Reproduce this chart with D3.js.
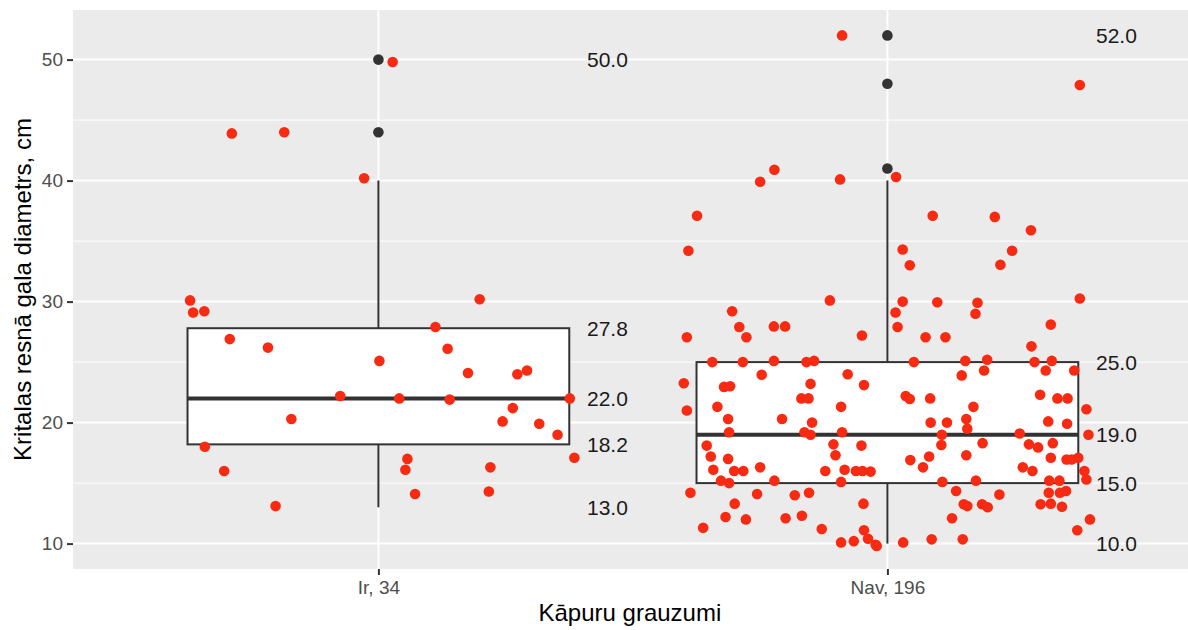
<!DOCTYPE html>
<html>
<head>
<meta charset="utf-8">
<script src="https://cdn.jsdelivr.net/npm/d3@7"></script>
<style>
  html, body { margin: 0; padding: 0; background: #ffffff; }
  svg { display: block; font-family: "Liberation Sans", Arial, Helvetica, sans-serif; }
</style>
</head>
<body>
<svg id="chart" width="1188" height="630"></svg>
<script>
// ---------- data ----------
const categories = ["Ir", "Nav"];
const tickLabels = ["Ir, 34", "Nav, 196"];
const yTicks = [10, 20, 30, 40, 50];
const yMinorTicks = [15, 25, 35, 45];

const boxQ1 = [18.2, 15.0];
const boxMedian = [22.0, 19.0];
const boxQ3 = [27.8, 25.0];
const whiskerLow = [13.0, 10.0];
const whiskerHigh = [40.0, 40.0];
const outliersIr = [44, 50];
const outliersNav = [41, 48, 52];

const labelValuesIr = [50.0, 27.8, 22.0, 18.2, 13.0];
const labelValuesNav = [52.0, 25.0, 19.0, 15.0, 10.0];

// jittered observations: value (cm) and horizontal jitter (category units)
const irValues = [49.8, 43.9, 44.0, 40.2, 30.1, 29.1, 29.2, 30.2, 26.9, 26.2, 27.9, 26.1, 25.1, 24.1, 24.0, 24.3,
  22.2, 22.0, 21.9, 22.0, 21.2, 20.3, 20.1, 19.9, 19.0, 18.0, 17.0, 17.1, 16.1, 16.3, 16.0, 14.1, 14.3, 13.1];
const irJitter = [0.028, -0.288, -0.185, -0.028, -0.370, -0.364, -0.342, 0.199, -0.292, -0.217, 0.112, 0.136, 0.002, 0.176, 0.273, 0.292,
  -0.075, 0.041, 0.140, 0.376, 0.264, -0.171, 0.244, 0.316, 0.352, -0.341, 0.057, 0.385, 0.053, 0.220, -0.303, 0.072, 0.217, -0.202];

const navValues = [
  52.0, 40.9, 39.9, 40.1, 37.1, 34.2,
  47.9, 40.3, 37.1, 37.0, 35.9, 34.3, 33.0, 34.2, 33.05,
  30.1, 29.2, 27.9, 27.95, 27.95, 27.05, 27.05, 27.2, 25.0, 25.0, 25.1, 25.0, 25.1, 23.25, 23.95, 24.0, 22.95, 23.0, 23.2, 23.1, 22.0, 22.0, 21.0, 21.3, 21.3,
  20.3, 20.3, 20.0, 19.2, 19.2, 19.0, 19.2, 18.1, 17.2, 17.0, 18.2, 17.3, 18.1, 16.1, 16.0, 16.0, 16.3, 16.0, 16.1, 16.0, 16.0, 15.95,
  15.2, 15.0, 15.2, 15.1, 14.2, 13.3, 14.1, 14.0, 14.2, 13.3, 12.2, 12.0, 12.1, 12.3, 11.3, 11.2, 11.1, 10.1, 10.2, 10.4, 9.9,
  30.0, 29.95, 29.9, 30.25, 29.1, 29.0, 27.9, 28.1, 27.05, 27.05, 26.3, 25.0, 25.1, 25.2, 25.0, 25.1, 23.9, 24.3, 24.3, 24.3,
  22.2, 21.95, 22.0, 22.3, 22.0, 22.0, 21.3, 21.1,
  20.0, 20.0, 20.3, 19.5, 20.1, 19.9, 19.0, 19.1, 19.0, 18.15, 18.3, 18.2, 17.95, 18.3,
  16.9, 17.2, 17.3, 17.1, 16.95, 16.95, 17.1, 16.3, 16.3, 16.0, 16.0,
  15.1, 15.2, 15.2, 15.2, 15.3, 14.35, 14.2, 14.2, 14.35, 14.05,
  13.25, 13.1, 13.25, 13.0, 13.25, 13.3, 13.05, 12.1, 12.0, 11.1, 10.1, 10.35, 10.35, 9.8
];
const navJitter = [
  -0.089, -0.222, -0.250, -0.093, -0.374, -0.391,
  0.378, 0.017, 0.089, 0.211, 0.282, 0.030, 0.044, 0.245, 0.222,
  -0.113, -0.305, -0.291, -0.223, -0.201, -0.394, -0.277, -0.050, -0.344, -0.284, -0.223, -0.159, -0.144, -0.400, -0.247, -0.078, -0.321, -0.309, -0.151, -0.046, -0.169, -0.155, -0.394, -0.334, -0.091,
  -0.313, -0.207, -0.148, -0.311, -0.163, -0.151, -0.089, -0.355, -0.347, -0.313, -0.106, -0.102, -0.051, -0.342, -0.301, -0.283, -0.250, -0.122, -0.084, -0.062, -0.049, -0.033,
  -0.327, -0.311, -0.222, -0.091, -0.387, -0.300, -0.256, -0.182, -0.154, -0.047, -0.318, -0.278, -0.200, -0.168, -0.362, -0.129, -0.046, -0.091, -0.066, -0.038, -0.023,
  0.030, 0.098, 0.177, 0.378, 0.016, 0.173, 0.020, 0.321, 0.075, 0.114, 0.283, 0.052, 0.153, 0.196, 0.289, 0.323, 0.146, 0.190, 0.311, 0.367,
  0.036, 0.044, 0.084, 0.300, 0.334, 0.354, 0.169, 0.391,
  0.085, 0.117, 0.155, 0.157, 0.316, 0.353, 0.107, 0.260, 0.395, 0.106, 0.187, 0.278, 0.296, 0.325,
  0.045, 0.082, 0.155, 0.321, 0.352, 0.362, 0.375, 0.070, 0.266, 0.285, 0.387,
  0.108, 0.174, 0.318, 0.338, 0.391, 0.135, 0.317, 0.339, 0.351, 0.220,
  0.150, 0.157, 0.186, 0.197, 0.301, 0.321, 0.343, 0.127, 0.398, 0.373, 0.031, 0.087, 0.148, -0.021
];

// ---------- layout ----------
const svg = d3.select("#chart");
const panel = { left: 73, top: 10, right: 1192.8, bottom: 569 };

const x = d3.scalePoint().domain(categories).range([panel.left, panel.right]).padding(0.6);
const step = x.step();
const y = d3.scaleLinear().domain([7.9, 54.1]).range([panel.bottom, panel.top]);

const textDark = "#1a1a1a";
const tickGrey = "#4d4d4d";
const lineDark = "#333333";
const red = "#f92a12";

svg.append("defs").append("clipPath").attr("id", "panelClip")
  .append("rect").attr("x", panel.left).attr("y", panel.top)
  .attr("width", panel.right - panel.left).attr("height", panel.bottom - panel.top);

// panel background
svg.append("rect").attr("x", panel.left).attr("y", panel.top)
  .attr("width", panel.right - panel.left).attr("height", panel.bottom - panel.top)
  .attr("fill", "#ebebeb");

const g = svg.append("g").attr("clip-path", "url(#panelClip)");

// grid
g.selectAll(".minor").data(yMinorTicks).join("line")
  .attr("x1", panel.left).attr("x2", panel.right)
  .attr("y1", d => y(d)).attr("y2", d => y(d))
  .attr("stroke", "#ffffff").attr("stroke-width", 1);
g.selectAll(".majorY").data(yTicks).join("line")
  .attr("x1", panel.left).attr("x2", panel.right)
  .attr("y1", d => y(d)).attr("y2", d => y(d))
  .attr("stroke", "#ffffff").attr("stroke-width", 2);
g.selectAll(".majorX").data(categories).join("line")
  .attr("x1", d => x(d)).attr("x2", d => x(d))
  .attr("y1", panel.top).attr("y2", panel.bottom)
  .attr("stroke", "#ffffff").attr("stroke-width", 2);

// boxplots
const boxHalf = step * 0.375;
categories.forEach((c, i) => {
  const cx = x(c);
  g.append("line").attr("x1", cx).attr("x2", cx)
    .attr("y1", y(boxQ3[i])).attr("y2", y(whiskerHigh[i]))
    .attr("stroke", lineDark).attr("stroke-width", 2);
  g.append("line").attr("x1", cx).attr("x2", cx)
    .attr("y1", y(boxQ1[i])).attr("y2", y(whiskerLow[i]))
    .attr("stroke", lineDark).attr("stroke-width", 2);
  g.append("rect").attr("x", cx - boxHalf).attr("y", y(boxQ3[i]))
    .attr("width", boxHalf * 2).attr("height", y(boxQ1[i]) - y(boxQ3[i]))
    .attr("fill", "#ffffff").attr("stroke", lineDark).attr("stroke-width", 2);
  g.append("line").attr("x1", cx - boxHalf).attr("x2", cx + boxHalf)
    .attr("y1", y(boxMedian[i])).attr("y2", y(boxMedian[i]))
    .attr("stroke", lineDark).attr("stroke-width", 4);
});

// outliers
const outliers = [
  ...outliersIr.map(v => ({ c: "Ir", v })),
  ...outliersNav.map(v => ({ c: "Nav", v }))
];
g.selectAll(".out").data(outliers).join("circle")
  .attr("cx", d => x(d.c)).attr("cy", d => y(d.v)).attr("r", 5.3)
  .attr("fill", lineDark);

// jittered points
const pts = [
  ...irValues.map((v, i) => ({ c: "Ir", v, j: irJitter[i] })),
  ...navValues.map((v, i) => ({ c: "Nav", v, j: navJitter[i] }))
];
g.selectAll(".pt").data(pts).join("circle")
  .attr("cx", d => x(d.c) + d.j * step).attr("cy", d => y(d.v)).attr("r", 5.3)
  .attr("fill", red);

// value labels
const labels = [
  ...labelValuesIr.map(v => ({ c: "Ir", v })),
  ...labelValuesNav.map(v => ({ c: "Nav", v }))
];
svg.selectAll(".vlab").data(labels).join("text")
  .attr("x", d => x(d.c) + step * 0.45).attr("y", d => y(d.v))
  .attr("dy", "0.36em").attr("text-anchor", "middle")
  .attr("font-size", 21).attr("fill", textDark)
  .text(d => d3.format(".1f")(d.v));

// axes
const yAxis = d3.axisLeft(y).tickValues(yTicks).tickSize(6).tickPadding(4).tickFormat(d3.format("d"));
const ya = svg.append("g").attr("transform", `translate(${panel.left},0)`).call(yAxis);
ya.select(".domain").remove();
ya.selectAll(".tick line").attr("stroke", lineDark).attr("stroke-width", 2);
ya.selectAll(".tick text").attr("fill", tickGrey).attr("font-size", 19)
  .attr("font-family", "Liberation Sans, Arial, sans-serif");

const xAxis = d3.axisBottom(x).tickSize(6).tickPadding(6).tickFormat((d, i) => tickLabels[i]);
const xa = svg.append("g").attr("transform", `translate(0,${panel.bottom})`).call(xAxis);
xa.select(".domain").remove();
xa.selectAll(".tick line").attr("stroke", lineDark).attr("stroke-width", 2);
xa.selectAll(".tick text").attr("fill", tickGrey).attr("font-size", 19)
  .attr("font-family", "Liberation Sans, Arial, sans-serif");

// axis titles
svg.append("text")
  .attr("x", (panel.left + panel.right) / 2 - 3).attr("y", 621)
  .attr("text-anchor", "middle").attr("font-size", 24).attr("fill", "#000")
  .text("Kāpuru grauzumi");
svg.append("text")
  .attr("transform", `translate(31,${(panel.top + panel.bottom) / 2}) rotate(-90)`)
  .attr("text-anchor", "middle").attr("font-size", 24).attr("fill", "#000")
  .text("Kritalas resnā gala diametrs, cm");
</script>
</body>
</html>
